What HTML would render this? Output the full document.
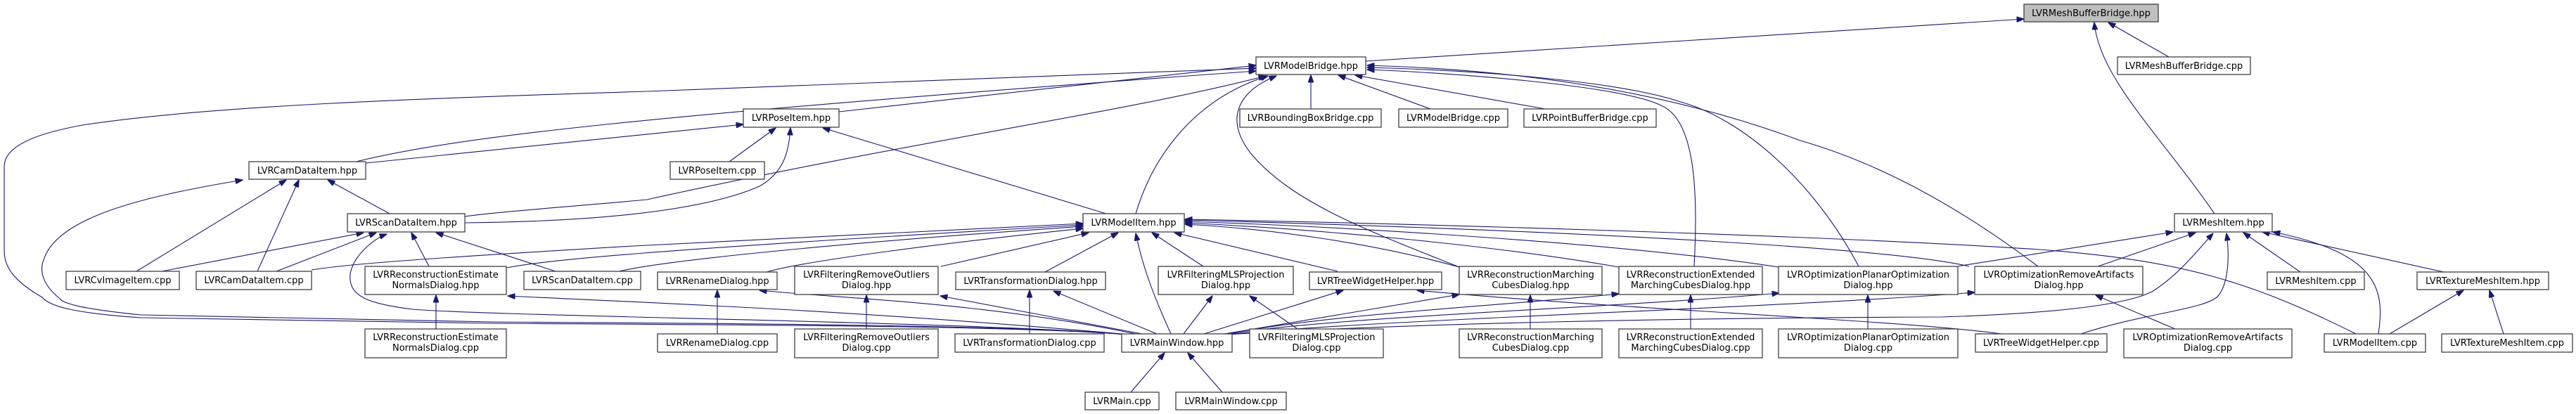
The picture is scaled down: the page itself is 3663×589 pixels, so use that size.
<!DOCTYPE html>
<html><head><meta charset="utf-8"><style>
html,body{margin:0;padding:0;background:#fff;}
svg{display:block;}
text{font-family:"DejaVu Sans","Liberation Sans",sans-serif;font-size:13px;fill:#000;}
.b{fill:#fff;stroke:#404040;stroke-width:1.3;}
.e{fill:none;stroke:#191970;stroke-width:1.1;marker-end:url(#a);}
</style></head><body>
<svg width="3663" height="589" viewBox="0 0 3663 589" xmlns="http://www.w3.org/2000/svg">
<defs><marker id="a" markerUnits="userSpaceOnUse" markerWidth="11" markerHeight="8" refX="10.5" refY="4" orient="auto"><path d="M0,0 L11,4 L0,8 z" fill="#191970" stroke="#191970"/></marker></defs>

<!-- edges -->
<path class="e" d="M1942,87 L2878,27"/>
<path class="e" d="M3084,81 L2998,32"/>
<path class="e" d="M3149,304 C3070,190 2985,110 2978,32"/>
<path class="e" d="M1193,159 L1786,93"/>
<path class="e" d="M1864,155 L1864,107"/>
<path class="e" d="M2034,155 L1903,107"/>
<path class="e" d="M2197,155 L1927,107"/>
<path class="e" d="M506,230 C650,195 900,165 1786,101"/>
<path class="e" d="M520,232 L1057,177"/>
<path class="e" d="M661,308 C700,302 800,295 920,284 C1300,200 1600,160 1800,108"/>
<path class="e" d="M661,317 C850,315 1000,300 1080,265 C1115,245 1122,215 1124,182"/>
<path class="e" d="M1600,476 C1450,463 1000,462 700,460 L200,452 C100,445 70,435 60,423 C20,400 6,380 6,357 L6,237 C6,200 80,185 117,178 C300,150 600,140 920,130 L1786,97"/>
<path class="e" d="M1602,476 C1450,462 1000,460 700,458 L200,448 C120,440 90,432 85,425 C55,400 58,380 62,370 C80,310 200,280 345,256"/>
<path class="e" d="M1604,476 C1400,458 700,450 587,440 C520,432 495,420 498,390 C502,365 530,340 550,333"/>
<path class="e" d="M1615,304 C1640,220 1700,140 1803,108"/>
<path class="e" d="M2075,380 C1950,330 1840,290 1780,220 C1740,170 1760,130 1815,108"/>
<path class="e" d="M2409,379 C2415,270 2410,170 2362,150 C2300,120 2050,103 1944,99"/>
<path class="e" d="M2643,379 C2580,260 2480,170 2390,145 C2300,115 2100,100 1944,96"/>
<path class="e" d="M2898,379 C2820,320 2700,240 2560,200 C2400,140 2200,100 1944,93"/>
<path class="e" d="M1037,230 L1103,182"/>
<path class="e" d="M1573,304 L1170,182"/>
<path class="e" d="M194,386 L407,256"/>
<path class="e" d="M366,386 L425,256"/>
<path class="e" d="M554,304 L466,256"/>
<path class="e" d="M230,386 L517,331"/>
<path class="e" d="M393,386 L535,331"/>
<path class="e" d="M610,379 L585,331"/>
<path class="e" d="M790,386 L620,331"/>
<path class="e" d="M443,384 C500,375 600,368 900,350 L1540,318"/>
<path class="e" d="M720,381 C780,370 900,357 1540,320"/>
<path class="e" d="M880,386 C950,370 1200,345 1540,322"/>
<path class="e" d="M1090,387 C1150,370 1350,345 1540,325"/>
<path class="e" d="M1338,379 L1548,331"/>
<path class="e" d="M1486,387 L1590,331"/>
<path class="e" d="M1711,379 L1638,331"/>
<path class="e" d="M1902,386 L1670,331"/>
<path class="e" d="M2075,380 C1950,345 1800,325 1685,319"/>
<path class="e" d="M2302,380 C2100,345 1850,325 1685,317"/>
<path class="e" d="M2529,380 C2300,345 1900,322 1685,315"/>
<path class="e" d="M2800,379 C2700,355 2300,330 1685,313"/>
<path class="e" d="M3350,475 C3200,400 3100,370 2900,355 C2600,335 2000,318 1685,312"/>
<path class="e" d="M1665,475 C1640,420 1625,380 1615,332"/>
<path class="e" d="M2783,379 L3090,330"/>
<path class="e" d="M2983,379 L3122,331"/>
<path class="e" d="M3271,387 L3190,331"/>
<path class="e" d="M3475,387 L3217,330"/>
<path class="e" d="M3382,475 C3392,410 3380,360 3232,330"/>
<path class="e" d="M1745,476 C2000,460 2400,452 2760,451 C2950,445 3030,430 3060,415 C3100,390 3130,350 3147,332"/>
<path class="e" d="M2959,475 C3050,445 3140,440 3155,420 C3170,400 3170,360 3166,332"/>
<path class="e" d="M3560,475 L3540,413"/>
<path class="e" d="M3398,475 L3503,413"/>
<path class="e" d="M3093,468 L2980,420"/>
<path class="e" d="M2846,475 C2700,455 2300,440 2015,413"/>
<path class="e" d="M1742,476 C2000,452 2500,440 2808,416"/>
<path class="e" d="M1740,476 C1900,450 2300,438 2530,417"/>
<path class="e" d="M1738,476 C1900,446 2100,438 2302,418"/>
<path class="e" d="M1735,476 L2075,419"/>
<path class="e" d="M1712,475 L1910,413"/>
<path class="e" d="M1683,475 L1724,421"/>
<path class="e" d="M1845,468 L1777,421"/>
<path class="e" d="M1645,475 L1498,414"/>
<path class="e" d="M1624,475 L1337,421"/>
<path class="e" d="M1620,476 C1400,430 1200,425 1080,413"/>
<path class="e" d="M1606,476 C1200,440 900,430 722,421"/>
<path class="e" d="M620,468 L620,420"/>
<path class="e" d="M1020,475 L1020,413"/>
<path class="e" d="M1232,468 L1232,420"/>
<path class="e" d="M1464,475 L1464,413"/>
<path class="e" d="M2176,468 L2176,420"/>
<path class="e" d="M2404,468 L2404,420"/>
<path class="e" d="M2656,468 L2656,420"/>
<path class="e" d="M1608,558 L1656,502"/>
<path class="e" d="M1738,558 L1689,502"/>

<!-- nodes -->
<g text-anchor="middle">
<rect x="2878" y="6" width="191" height="25" style="fill:#bfbfbf;stroke:#404040;stroke-width:1.3"/><text x="2973.5" y="23">LVRMeshBufferBridge.hpp</text>
<rect class="b" x="3011" y="81" width="189" height="25"/><text x="3105.5" y="98">LVRMeshBufferBridge.cpp</text>
<rect class="b" x="1786" y="81" width="156" height="25"/><text x="1864" y="98">LVRModelBridge.hpp</text>
<rect class="b" x="1057" y="155" width="136" height="26"/><text x="1125" y="172">LVRPoseItem.hpp</text>
<rect class="b" x="1763" y="155" width="201" height="26"/><text x="1863.5" y="172">LVRBoundingBoxBridge.cpp</text>
<rect class="b" x="1989" y="155" width="155" height="26"/><text x="2066.5" y="172">LVRModelBridge.cpp</text>
<rect class="b" x="2167" y="155" width="188" height="26"/><text x="2261" y="172">LVRPointBufferBridge.cpp</text>
<rect class="b" x="354" y="230" width="166" height="25"/><text x="437" y="247">LVRCamDataItem.hpp</text>
<rect class="b" x="953" y="230" width="134" height="25"/><text x="1020" y="247">LVRPoseItem.cpp</text>
<rect class="b" x="494" y="304" width="167" height="26"/><text x="577.5" y="321">LVRScanDataItem.hpp</text>
<rect class="b" x="1540" y="304" width="144" height="26"/><text x="1612" y="321">LVRModelItem.hpp</text>
<rect class="b" x="3092" y="304" width="139" height="26"/><text x="3161.5" y="321">LVRMeshItem.hpp</text>
<rect class="b" x="94" y="386" width="161" height="26"/><text x="174.5" y="403">LVRCvImageItem.cpp</text>
<rect class="b" x="279" y="386" width="164" height="26"/><text x="361" y="403">LVRCamDataItem.cpp</text>
<rect class="b" x="519" y="379" width="201" height="40"/><text x="619.5" y="395">LVRReconstructionEstimate</text><text x="619.5" y="410">NormalsDialog.hpp</text>
<rect class="b" x="745" y="386" width="166" height="26"/><text x="828" y="403">LVRScanDataItem.cpp</text>
<rect class="b" x="935" y="387" width="170" height="25"/><text x="1020" y="404">LVRRenameDialog.hpp</text>
<rect class="b" x="1130" y="379" width="204" height="40"/><text x="1232" y="395">LVRFilteringRemoveOutliers</text><text x="1232" y="410">Dialog.hpp</text>
<rect class="b" x="1359" y="387" width="213" height="25"/><text x="1465.5" y="404">LVRTransformationDialog.hpp</text>
<rect class="b" x="1647" y="379" width="192" height="40"/><text x="1743" y="395">LVRFilteringMLSProjection</text><text x="1743" y="410">Dialog.hpp</text>
<rect class="b" x="1862" y="387" width="188" height="25"/><text x="1956" y="404">LVRTreeWidgetHelper.hpp</text>
<rect class="b" x="2075" y="379" width="203" height="40"/><text x="2176.5" y="395">LVRReconstructionMarching</text><text x="2176.5" y="410">CubesDialog.hpp</text>
<rect class="b" x="2302" y="379" width="204" height="40"/><text x="2404" y="395">LVRReconstructionExtended</text><text x="2404" y="410">MarchingCubesDialog.hpp</text>
<rect class="b" x="2529" y="379" width="255" height="40"/><text x="2656.5" y="395">LVROptimizationPlanarOptimization</text><text x="2656.5" y="410">Dialog.hpp</text>
<rect class="b" x="2808" y="379" width="239" height="40"/><text x="2927.5" y="395">LVROptimizationRemoveArtifacts</text><text x="2927.5" y="410">Dialog.hpp</text>
<rect class="b" x="3224" y="387" width="138" height="25"/><text x="3293" y="404">LVRMeshItem.cpp</text>
<rect class="b" x="3437" y="387" width="187" height="25"/><text x="3530.5" y="404">LVRTextureMeshItem.hpp</text>
<rect class="b" x="519" y="468" width="201" height="41"/><text x="619.5" y="484">LVRReconstructionEstimate</text><text x="619.5" y="499">NormalsDialog.cpp</text>
<rect class="b" x="935" y="475" width="170" height="26"/><text x="1020" y="492">LVRRenameDialog.cpp</text>
<rect class="b" x="1130" y="468" width="204" height="41"/><text x="1232" y="484">LVRFilteringRemoveOutliers</text><text x="1232" y="499">Dialog.cpp</text>
<rect class="b" x="1358" y="475" width="212" height="26"/><text x="1464" y="492">LVRTransformationDialog.cpp</text>
<rect class="b" x="1595" y="475" width="157" height="26"/><text x="1673.5" y="492">LVRMainWindow.hpp</text>
<rect class="b" x="1777" y="468" width="190" height="41"/><text x="1872" y="484">LVRFilteringMLSProjection</text><text x="1872" y="499">Dialog.cpp</text>
<rect class="b" x="2075" y="468" width="203" height="41"/><text x="2176.5" y="484">LVRReconstructionMarching</text><text x="2176.5" y="499">CubesDialog.cpp</text>
<rect class="b" x="2302" y="468" width="204" height="41"/><text x="2404" y="484">LVRReconstructionExtended</text><text x="2404" y="499">MarchingCubesDialog.cpp</text>
<rect class="b" x="2529" y="468" width="255" height="41"/><text x="2656.5" y="484">LVROptimizationPlanarOptimization</text><text x="2656.5" y="499">Dialog.cpp</text>
<rect class="b" x="2809" y="475" width="187" height="26"/><text x="2902.5" y="492">LVRTreeWidgetHelper.cpp</text>
<rect class="b" x="3020" y="468" width="239" height="41"/><text x="3139.5" y="484">LVROptimizationRemoveArtifacts</text><text x="3139.5" y="499">Dialog.cpp</text>
<rect class="b" x="3305" y="475" width="144" height="26"/><text x="3377" y="492">LVRModelItem.cpp</text>
<rect class="b" x="3472" y="475" width="186" height="26"/><text x="3565" y="492">LVRTextureMeshItem.cpp</text>
<rect class="b" x="1543" y="558" width="105" height="25"/><text x="1595.5" y="575">LVRMain.cpp</text>
<rect class="b" x="1672" y="558" width="157" height="25"/><text x="1750.5" y="575">LVRMainWindow.cpp</text>
</g>
</svg>
</body></html>
